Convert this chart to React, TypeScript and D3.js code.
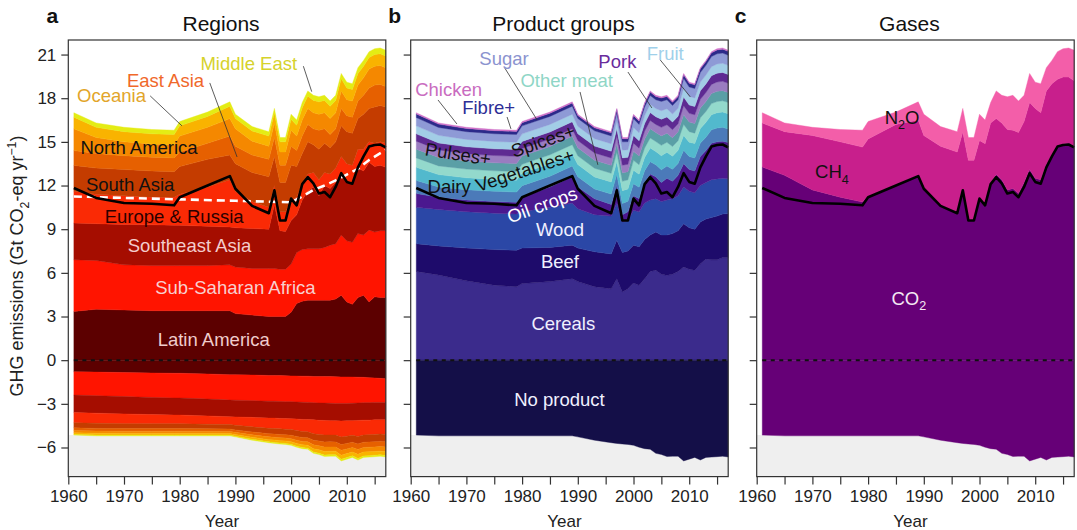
import { useEffect, useRef } from 'react';
import * as d3 from 'd3';

// ---- data (Gt CO2-eq per year) ----
const years = [1961, 1965, 1970, 1975, 1979, 1980, 1985, 1989, 1990, 1993, 1996, 1997, 1998, 1999, 2000, 2001, 2002, 2003, 2004, 2005, 2006, 2007, 2008, 2009, 2010, 2011, 2012, 2013, 2014, 2015, 2016, 2017];

// black line: alternative estimate, white dashed line: trend (panel a)
const otherEstimate = [11.83, 11.15, 10.8, 10.75, 10.64, 11.2, 12.0, 12.65, 11.78, 10.6, 10.1, 11.67, 9.6, 9.6, 11.1, 10.64, 12.1, 12.58, 12.15, 11.45, 11.55, 11.2, 11.9, 12.85, 12.25, 12.13, 13.25, 14.0, 14.68, 14.78, 14.82, 14.62];
const trendYears = [1961, 1970, 1980, 1990, 2000, 2002, 2004, 2006, 2008, 2010, 2012, 2014, 2017];
const trendValues = [11.25, 11.15, 11.05, 10.95, 10.85, 11.25, 11.7, 12.0, 12.35, 12.75, 13.15, 13.75, 14.45];

// net land sink (shared by all panels)
const landSink = [-5.15, -5.2, -5.2, -5.2, -5.2, -5.2, -5.2, -5.2, -5.27, -5.5, -5.67, -5.72, -5.76, -5.79, -5.85, -5.98, -6.08, -6.12, -6.4, -6.48, -6.62, -6.6, -6.6, -6.92, -6.8, -6.68, -6.86, -6.68, -6.66, -6.63, -6.6, -6.65];

// panel a: regions (sources)
const latinAmerica = [3.35, 3.5, 3.45, 3.4, 3.4, 3.4, 3.4, 3.4, 3.2, 3.1, 3.0, 3.0, 3.0, 3.0, 3.3, 3.9, 4.05, 4.12, 4.12, 4.12, 4.12, 4.12, 4.2, 4.46, 4.0, 3.84, 4.3, 4.46, 4.0, 4.35, 4.3, 4.3];
const subSaharanAfrica = [3.55, 3.35, 3.1, 3.1, 3.1, 3.1, 3.1, 3.15, 3.2, 3.2, 3.3, 3.3, 3.25, 3.25, 3.3, 3.5, 3.55, 3.53, 3.53, 3.53, 3.63, 3.78, 3.8, 4.14, 4.2, 4.26, 4.4, 4.14, 4.95, 4.45, 4.6, 4.6];
const southeastAsia = [2.52, 2.53, 2.78, 2.8, 2.77, 2.77, 2.7, 2.6, 2.7, 2.75, 2.7, 4.4, 2.65, 2.6, 3.0, 2.6, 3.4, 3.95, 4.25, 3.65, 4.25, 3.9, 4.2, 4.3, 4.1, 4.1, 4.5, 4.4, 4.65, 4.5, 4.5, 4.35];
const europeRussia = [2.18, 2.02, 1.97, 1.9, 1.93, 2.13, 2.7, 3.25, 2.5, 1.85, 1.5, 1.3, 1.3, 1.35, 1.4, 1.2, 1.1, 1.2, 1.0, 1.1, 0.9, 1.0, 1.0, 1.1, 1.2, 1.2, 1.3, 1.5, 1.4, 1.6, 1.6, 1.65];
const southAsia = [1.78, 1.8, 1.8, 1.8, 1.75, 1.9, 1.9, 1.7, 1.9, 2.0, 2.1, 2.0, 2.0, 2.0, 2.4, 2.1, 2.1, 2.2, 1.9, 2.1, 2.0, 1.8, 1.8, 2.1, 2.2, 2.2, 2.1, 2.4, 2.3, 2.5, 2.5, 2.5];
const eastAsia = [1.02, 1.0, 0.95, 0.95, 0.95, 1.0, 1.1, 1.3, 1.2, 1.2, 1.2, 1.3, 1.2, 1.2, 1.3, 1.1, 1.2, 1.2, 1.1, 1.3, 1.0, 0.9, 0.9, 1.2, 1.1, 1.1, 1.2, 1.3, 1.4, 1.5, 1.45, 1.4];
const northAmerica = [1.5, 1.1, 0.95, 0.9, 0.9, 1.1, 1.1, 1.2, 1.2, 0.95, 0.9, 1.0, 0.9, 0.9, 1.1, 1.0, 1.1, 1.1, 1.1, 1.1, 1.1, 1.1, 1.1, 1.2, 1.1, 1.1, 1.1, 1.2, 1.3, 1.3, 1.3, 1.3];
const oceania = [0.8, 0.7, 0.7, 0.7, 0.7, 0.7, 0.75, 0.85, 0.7, 0.7, 0.7, 0.7, 0.7, 0.7, 0.75, 0.75, 0.85, 0.85, 0.85, 0.85, 0.85, 0.85, 0.85, 0.85, 0.8, 0.8, 0.8, 0.8, 0.8, 0.8, 0.8, 0.8];
const middleEast = [0.3, 0.3, 0.3, 0.3, 0.3, 0.3, 0.3, 0.3, 0.3, 0.3, 0.3, 0.3, 0.3, 0.3, 0.35, 0.35, 0.35, 0.35, 0.35, 0.35, 0.35, 0.35, 0.35, 0.35, 0.4, 0.4, 0.4, 0.4, 0.4, 0.4, 0.4, 0.4];

// panel a: regions (sinks)
const latinAmericaSink = [-0.8, -0.82, -0.85, -0.88, -0.9, -0.9, -0.95, -1.0, -1.0, -1.02, -1.05, -1.05, -1.06, -1.07, -1.08, -1.09, -1.1, -1.1, -1.12, -1.12, -1.13, -1.13, -1.14, -1.15, -1.15, -1.16, -1.17, -1.18, -1.2, -1.22, -1.25, -1.27];
const subSaharanAfricaSink = [-1.6, -1.62, -1.65, -1.68, -1.7, -1.7, -1.72, -1.74, -1.75, -1.76, -1.77, -1.77, -1.78, -1.78, -1.77, -1.78, -1.79, -1.8, -1.8, -1.82, -1.82, -1.83, -1.83, -1.82, -1.82, -1.8, -1.77, -1.74, -1.72, -1.68, -1.65, -1.63];
const southeastAsiaSink = [-1.2, -1.2, -1.19, -1.18, -1.17, -1.17, -1.16, -1.15, -1.15, -1.15, -1.16, -1.16, -1.16, -1.16, -1.17, -1.17, -1.18, -1.18, -1.18, -1.19, -1.19, -1.2, -1.2, -1.21, -1.2, -1.2, -1.2, -1.2, -1.2, -1.2, -1.2, -1.2];
const europeRussiaSink = [-0.7, -0.7, -0.67, -0.63, -0.6, -0.6, -0.57, -0.53, -0.57, -0.65, -0.7, -0.72, -0.72, -0.73, -0.75, -0.8, -0.83, -0.84, -0.95, -0.97, -1.0, -0.98, -0.98, -1.1, -1.05, -1.0, -1.1, -1.02, -1.0, -1.0, -0.98, -1.0];
const southAsiaSink = [-0.35, -0.35, -0.34, -0.33, -0.33, -0.33, -0.32, -0.31, -0.32, -0.35, -0.37, -0.38, -0.38, -0.38, -0.39, -0.4, -0.41, -0.41, -0.45, -0.46, -0.48, -0.47, -0.47, -0.52, -0.5, -0.48, -0.52, -0.5, -0.5, -0.5, -0.5, -0.5];
const eastAsiaSink = [-0.18, -0.18, -0.18, -0.18, -0.18, -0.18, -0.17, -0.17, -0.17, -0.2, -0.22, -0.22, -0.23, -0.23, -0.24, -0.26, -0.27, -0.28, -0.32, -0.32, -0.35, -0.35, -0.34, -0.39, -0.38, -0.36, -0.38, -0.36, -0.36, -0.36, -0.36, -0.37];
const northAmericaSink = [-0.15, -0.15, -0.15, -0.15, -0.15, -0.15, -0.14, -0.14, -0.14, -0.17, -0.19, -0.19, -0.2, -0.2, -0.21, -0.22, -0.23, -0.24, -0.27, -0.28, -0.3, -0.3, -0.29, -0.34, -0.32, -0.31, -0.33, -0.31, -0.31, -0.31, -0.31, -0.31];
const oceaniaSink = [-0.12, -0.13, -0.12, -0.12, -0.12, -0.12, -0.12, -0.11, -0.12, -0.14, -0.15, -0.16, -0.16, -0.17, -0.17, -0.19, -0.19, -0.2, -0.22, -0.23, -0.25, -0.24, -0.25, -0.28, -0.27, -0.26, -0.28, -0.27, -0.27, -0.26, -0.25, -0.27];
const middleEastSink = [-0.05, -0.05, -0.05, -0.05, -0.05, -0.05, -0.05, -0.05, -0.05, -0.06, -0.06, -0.07, -0.07, -0.07, -0.07, -0.07, -0.08, -0.07, -0.09, -0.09, -0.1, -0.1, -0.1, -0.11, -0.11, -0.11, -0.11, -0.1, -0.1, -0.1, -0.1, -0.1];

// panel b: product groups
const cereals = [6.1, 5.85, 5.45, 5.15, 5.05, 5.26, 5.4, 5.6, 5.4, 5.05, 4.9, 5.6, 4.69, 4.9, 5.3, 5.15, 5.6, 6.1, 6.18, 5.9, 5.83, 5.9, 6.1, 6.4, 6.25, 6.18, 6.6, 6.95, 6.9, 6.9, 7.05, 7.05];
const beef = [1.9, 2.0, 2.25, 2.45, 2.5, 2.44, 2.35, 2.3, 2.3, 2.4, 2.4, 2.64, 2.71, 2.6, 2.6, 2.65, 2.7, 2.5, 2.62, 2.7, 2.77, 2.8, 2.8, 2.98, 2.85, 2.82, 2.9, 2.75, 2.9, 3.0, 3.0, 3.02];
const wood = [2.5, 2.5, 2.5, 2.5, 2.5, 2.5, 2.75, 2.9, 2.7, 2.55, 2.6, 2.56, 2.1, 2.1, 2.4, 2.4, 2.5, 2.4, 2.3, 2.3, 2.4, 2.4, 2.4, 2.52, 2.5, 2.5, 2.5, 2.5, 2.6, 2.55, 2.45, 2.4];
const oilCrops = [0.95, 0.85, 0.8, 0.8, 0.8, 1.0, 1.4, 1.8, 1.5, 1.1, 0.8, 1.2, 0.5, 0.6, 1.0, 0.9, 1.4, 1.8, 1.5, 1.3, 1.5, 1.2, 1.4, 1.6, 1.5, 1.5, 2.0, 2.2, 2.5, 2.55, 2.55, 2.48];
const dairy = [0.9, 0.7, 0.71, 0.7, 0.7, 0.79, 0.74, 0.74, 0.71, 0.66, 0.71, 0.77, 0.77, 0.72, 0.83, 0.78, 0.82, 0.84, 0.82, 0.88, 0.84, 0.82, 0.82, 0.92, 0.89, 0.89, 0.92, 0.92, 0.93, 0.95, 0.95, 0.94];
const vegetables = [0.9, 0.85, 0.82, 0.82, 0.82, 0.85, 0.85, 0.85, 0.83, 0.83, 0.83, 0.88, 0.88, 0.85, 0.92, 0.9, 0.9, 0.94, 0.92, 0.97, 0.94, 0.9, 0.9, 1.02, 0.99, 0.99, 1.0, 1.02, 1.04, 1.05, 1.05, 1.04];
const otherMeat = [0.65, 0.6, 0.6, 0.59, 0.59, 0.62, 0.62, 0.62, 0.6, 0.6, 0.6, 0.64, 0.64, 0.62, 0.68, 0.65, 0.66, 0.69, 0.68, 0.71, 0.69, 0.66, 0.66, 0.75, 0.72, 0.72, 0.73, 0.75, 0.76, 0.77, 0.77, 0.77];
const pulses = [0.6, 0.58, 0.56, 0.55, 0.55, 0.57, 0.57, 0.57, 0.55, 0.55, 0.55, 0.58, 0.58, 0.56, 0.62, 0.6, 0.61, 0.63, 0.62, 0.65, 0.63, 0.61, 0.61, 0.68, 0.66, 0.66, 0.67, 0.68, 0.69, 0.7, 0.7, 0.7];
const spices = [0.55, 0.52, 0.5, 0.5, 0.5, 0.52, 0.52, 0.52, 0.5, 0.5, 0.5, 0.53, 0.53, 0.51, 0.56, 0.54, 0.55, 0.57, 0.56, 0.59, 0.57, 0.55, 0.55, 0.62, 0.6, 0.6, 0.61, 0.62, 0.63, 0.64, 0.64, 0.63];
const pork = [0.5, 0.48, 0.47, 0.46, 0.46, 0.48, 0.48, 0.48, 0.47, 0.47, 0.47, 0.5, 0.5, 0.48, 0.53, 0.51, 0.52, 0.54, 0.53, 0.56, 0.54, 0.52, 0.52, 0.59, 0.57, 0.57, 0.58, 0.59, 0.6, 0.61, 0.61, 0.6];
const fruit = [0.55, 0.52, 0.51, 0.51, 0.51, 0.52, 0.52, 0.52, 0.51, 0.51, 0.51, 0.53, 0.53, 0.52, 0.55, 0.54, 0.55, 0.57, 0.56, 0.58, 0.57, 0.55, 0.55, 0.61, 0.59, 0.59, 0.6, 0.61, 0.62, 0.63, 0.63, 0.63];
const sugar = [0.57, 0.54, 0.53, 0.53, 0.53, 0.55, 0.55, 0.55, 0.54, 0.54, 0.54, 0.57, 0.57, 0.55, 0.6, 0.58, 0.59, 0.61, 0.6, 0.64, 0.61, 0.59, 0.59, 0.67, 0.65, 0.65, 0.66, 0.67, 0.69, 0.7, 0.7, 0.69];
const fibre = [0.25, 0.23, 0.22, 0.21, 0.21, 0.22, 0.22, 0.22, 0.21, 0.21, 0.21, 0.22, 0.22, 0.21, 0.23, 0.22, 0.22, 0.23, 0.23, 0.24, 0.23, 0.22, 0.22, 0.26, 0.25, 0.25, 0.25, 0.26, 0.26, 0.27, 0.27, 0.27];
const chicken = [0.08, 0.08, 0.08, 0.08, 0.08, 0.08, 0.08, 0.08, 0.08, 0.08, 0.08, 0.08, 0.08, 0.08, 0.08, 0.08, 0.08, 0.08, 0.08, 0.08, 0.08, 0.08, 0.08, 0.08, 0.08, 0.08, 0.08, 0.08, 0.08, 0.08, 0.08, 0.08];

// panel c: gases
const co2 = [13.27, 12.7, 11.7, 11.2, 10.86, 11.25, 12.05, 12.7, 11.83, 10.65, 10.15, 11.72, 9.65, 9.65, 11.15, 10.7, 12.15, 12.75, 12.4, 11.7, 11.8, 11.45, 12.2, 13.1, 12.5, 12.4, 13.45, 14.1, 14.75, 14.85, 14.9, 14.7];
const ch4 = [3.02, 3.0, 3.74, 3.8, 3.78, 3.95, 4.15, 3.8, 3.61, 4.05, 4.15, 3.95, 4.08, 4.08, 3.95, 4.17, 4.15, 3.85, 3.9, 4.15, 4.0, 4.2, 4.2, 4.6, 4.8, 4.6, 5.05, 4.9, 4.55, 4.6, 4.55, 4.5];
const n2o = [0.71, 0.6, 0.56, 0.85, 1.16, 1.2, 0.85, 1.25, 1.46, 1.35, 1.4, 1.63, 1.57, 1.57, 1.8, 1.63, 1.4, 1.9, 1.9, 2.25, 2.4, 2.15, 1.8, 2.0, 1.8, 2.0, 1.6, 1.6, 1.9, 1.95, 2.0, 2.1];

// ---- layout ----
const FONT = '"Liberation Sans", Arial, Helvetica, sans-serif';
const PLOT_TOP = 40;
const PLOT_BOTTOM = 476.6;
const PLOT_W = 317.5;
const PANEL_LEFT = [68.3, 410.7, 756.7];

const regionSeries = [
  { key: 'Latin America', values: latinAmerica, color: '#5c0000' },
  { key: 'Sub-Saharan Africa', values: subSaharanAfrica, color: '#ff1400' },
  { key: 'Southeast Asia', values: southeastAsia, color: '#a50d00' },
  { key: 'Europe & Russia', values: europeRussia, color: '#fa2a05' },
  { key: 'South Asia', values: southAsia, color: '#c43c00' },
  { key: 'East Asia', values: eastAsia, color: '#e66000' },
  { key: 'North America', values: northAmerica, color: '#f58800' },
  { key: 'Oceania', values: oceania, color: '#f9b300' },
  { key: 'Middle East', values: middleEast, color: '#e4ec14' },
  { key: 'Latin America sink', values: latinAmericaSink, color: '#5c0000' },
  { key: 'Sub-Saharan Africa sink', values: subSaharanAfricaSink, color: '#ff1400' },
  { key: 'Southeast Asia sink', values: southeastAsiaSink, color: '#a50d00' },
  { key: 'Europe & Russia sink', values: europeRussiaSink, color: '#fa2a05' },
  { key: 'South Asia sink', values: southAsiaSink, color: '#c43c00' },
  { key: 'East Asia sink', values: eastAsiaSink, color: '#e66000' },
  { key: 'North America sink', values: northAmericaSink, color: '#f58800' },
  { key: 'Oceania sink', values: oceaniaSink, color: '#f9b300' },
  { key: 'Middle East sink', values: middleEastSink, color: '#e4ec14' },
];

const productSeries = [
  { key: 'Cereals', values: cereals, color: '#3b2b8c' },
  { key: 'Beef', values: beef, color: '#1e0b6b' },
  { key: 'Wood', values: wood, color: '#2b47a6' },
  { key: 'Oil crops', values: oilCrops, color: '#4b188f' },
  { key: 'Dairy', values: dairy, color: '#4b7ab9' },
  { key: 'Vegetables+', values: vegetables, color: '#52b9cd' },
  { key: 'Other meat', values: otherMeat, color: '#93d9cc' },
  { key: 'Pulses+', values: pulses, color: '#5a9fa6' },
  { key: 'Spices+', values: spices, color: '#9a7cc0' },
  { key: 'Pork', values: pork, color: '#5e2a92' },
  { key: 'Fruit', values: fruit, color: '#a2cde6' },
  { key: 'Sugar', values: sugar, color: '#8e9ad6' },
  { key: 'Fibre+', values: fibre, color: '#2b2a8a' },
  { key: 'Chicken', values: chicken, color: '#d070c8' },
  { key: 'No product', values: landSink, color: '#140f48' },
];

const gasSeries = [
  { key: 'CO2', values: co2, color: '#660077' },
  { key: 'CH4', values: ch4, color: '#c81f8c' },
  { key: 'N2O', values: n2o, color: '#f35ea9' },
  { key: 'CO2 sink', values: landSink, color: '#660077' },
];

// labels placed in data coordinates (year, value)
type Part = { t: string; s?: 'sub' | 'sup' };
const regionLabels = [
  { parts: [{ t: 'Middle East' }], year: 1992.4, value: 20.4, color: '#d6d22c' },
  { parts: [{ t: 'East Asia' }], year: 1977.45, value: 19.2, color: '#f0682a' },
  { parts: [{ t: 'Oceania' }], year: 1967.75, value: 18.2, color: '#e2a52a' },
  { parts: [{ t: 'North America' }], year: 1972.7, value: 14.6, color: '#111' },
  { parts: [{ t: 'South Asia' }], year: 1971.1, value: 12.05, color: '#111' },
  { parts: [{ t: 'Europe & Russia' }], year: 1979.0, value: 9.9, color: '#2a0000' },
  { parts: [{ t: 'Southeast Asia' }], year: 1981.75, value: 7.9, color: '#f3cccc' },
  { parts: [{ t: 'Sub-Saharan Africa' }], year: 1990.0, value: 5.0, color: '#f8cfcf' },
  { parts: [{ t: 'Latin America' }], year: 1986.1, value: 1.45, color: '#f0cccc' },
];
const regionLeaders = [
  [2002.2, 20.2, 2003.7, 18.45],
  [1985.4, 19.05, 1990.3, 13.96],
  [1974.7, 18.16, 1980.4, 16.1],
];
const productLabels = [
  { parts: [{ t: 'Chicken' }], year: 1966.8, value: 18.57, color: '#c96cc0' },
  { parts: [{ t: 'Fibre+' }], year: 1974.0, value: 17.33, color: '#2e2e96' },
  { parts: [{ t: 'Sugar' }], year: 1976.75, value: 20.7, color: '#8b93cf' },
  { parts: [{ t: 'Other meat' }], year: 1988.0, value: 19.2, color: '#8fd6c6' },
  { parts: [{ t: 'Pork' }], year: 1997.1, value: 20.5, color: '#6a2c9c' },
  { parts: [{ t: 'Fruit' }], year: 2005.7, value: 21.1, color: '#9fd0ea' },
  { parts: [{ t: 'Spices+' }], year: 1983.75, value: 15.07, color: '#111', rotate: -19 },
  { parts: [{ t: 'Pulses+' }], year: 1968.5, value: 14.17, color: '#111', rotate: 9 },
  { parts: [{ t: 'Vegetables+' }], year: 1980.5, value: 13.07, color: '#111', rotate: -18 },
  { parts: [{ t: 'Dairy' }], year: 1966.9, value: 11.9, color: '#111' },
  { parts: [{ t: 'Oil crops' }], year: 1983.6, value: 10.67, color: '#fff', rotate: -20 },
  { parts: [{ t: 'Wood' }], year: 1986.8, value: 9.0, color: '#f0f0ff' },
  { parts: [{ t: 'Beef' }], year: 1986.8, value: 6.76, color: '#f0f0ff' },
  { parts: [{ t: 'Cereals' }], year: 1987.4, value: 2.5, color: '#f0f0ff' },
  { parts: [{ t: 'No product' }], year: 1986.7, value: -2.7, color: '#f0f0ff' },
];
const productLeaders = [
  [1964.9, 17.88, 1968.3, 16.23],
  [1977.3, 16.71, 1978.0, 15.89],
  [1976.9, 20.07, 1982.7, 16.5],
  [1990.4, 18.43, 1993.6, 13.42],
  [1999.0, 19.8, 2003.3, 17.33],
  [2004.8, 20.63, 2010.2, 18.09],
];
const gasLabels = [
  { parts: [{ t: 'N' }, { t: '2', s: 'sub' }, { t: 'O' }], year: 1986.1, value: 16.7, color: '#111' },
  { parts: [{ t: 'CH' }, { t: '4', s: 'sub' }], year: 1973.5, value: 12.93, color: '#111' },
  { parts: [{ t: 'CO' }, { t: '2', s: 'sub' }], year: 1987.3, value: 4.27, color: '#f4e8f4' },
];

function richText(g, parts: Part[], x: number, y: number, size: number, fill: string, rotate = 0) {
  const text = g.append('text')
    .attr('transform', `translate(${x},${y}) rotate(${rotate})`)
    .attr('text-anchor', 'middle')
    .attr('font-family', FONT)
    .attr('font-size', size)
    .attr('fill', fill);
  let shift = 0;
  parts.forEach((p, i) => {
    const target = p.s === 'sub' ? 0.3 : p.s === 'sup' ? -0.42 : 0;
    const base = i === 0 ? 0.35 * size : 0;
    text.append('tspan')
      .attr('dy', base + (target - shift) * size)
      .attr('font-size', p.s ? size * 0.68 : size)
      .text(p.t);
    shift = target;
  });
  return text;
}

function drawPanel(root, idx: number, series, opts) {
  const left = PANEL_LEFT[idx];
  const x = d3.scaleLinear().domain([1960, 2017]).range([left, left + PLOT_W]);
  const y = d3.scaleLinear().domain([-8, 22]).range([PLOT_BOTTOM, PLOT_TOP]);
  const g = root.append('g');

  const rows = years.map((year, i) => {
    const r: any = { year };
    series.forEach(s => { r[s.key] = s.values[i]; });
    return r;
  });
  const layers = d3.stack().keys(series.map(s => s.key)).offset(d3.stackOffsetDiverging)(rows);

  // light grey ground below the land sink
  const ground = rows.map((r, i) => ({ year: r.year, v: d3.min(layers, (L: any) => L[i][0]) }));
  ground.unshift({ year: 1960, v: ground[0].v });
  g.append('path')
    .datum(ground)
    .attr('fill', '#efefef')
    .attr('d', d3.area<any>().x(d => x(d.year)).y0(PLOT_BOTTOM).y1(d => y(d.v)));

  const area = d3.area<any>()
    .x(d => x(d.data.year))
    .y0(d => y(d[0]))
    .y1(d => y(d[1]));

  g.selectAll('path.layer')
    .data(layers)
    .enter()
    .append('path')
    .attr('class', 'layer')
    .attr('fill', (d, i) => series[i].color)
    .attr('stroke', (d, i) => series[i].color)
    .attr('stroke-width', 0.4)
    .attr('d', area);

  // zero line
  g.append('line')
    .attr('x1', x(1961)).attr('x2', x(2017))
    .attr('y1', y(0)).attr('y2', y(0))
    .attr('stroke', '#111')
    .attr('stroke-width', 2)
    .attr('stroke-dasharray', '4,4.5');

  const line = d3.line<any>().x(d => x(d[0])).y(d => y(d[1]));

  if (opts.trend) {
    g.append('path')
      .datum(trendYears.map((yr, i) => [yr, trendValues[i]]))
      .attr('fill', 'none')
      .attr('stroke', '#fff')
      .attr('stroke-width', 2.6)
      .attr('stroke-dasharray', '8,5')
      .attr('d', line);
  }

  g.append('path')
    .datum(years.map((yr, i) => [yr, otherEstimate[i]]))
    .attr('fill', 'none')
    .attr('stroke', '#000')
    .attr('stroke-width', 2.6)
    .attr('stroke-linejoin', 'round')
    .attr('d', line);

  // frame
  g.append('rect')
    .attr('x', left).attr('y', PLOT_TOP)
    .attr('width', PLOT_W).attr('height', PLOT_BOTTOM - PLOT_TOP)
    .attr('fill', 'none')
    .attr('stroke', '#333')
    .attr('stroke-width', 1.2);

  // axes
  const yAxis = d3.axisLeft(y).tickValues(d3.range(-6, 22, 3)).tickSize(7).tickPadding(5);
  if (!opts.yLabels) yAxis.tickFormat(() => '');
  const ya = g.append('g').attr('transform', `translate(${left},0)`).call(yAxis);
  ya.select('.domain').remove();
  ya.attr('font-family', FONT).attr('font-size', 17);
  ya.selectAll('line').attr('stroke', '#333').attr('stroke-width', 1.2);
  ya.selectAll('text').attr('fill', '#222');

  const xAxis = d3.axisBottom(x)
    .tickValues(d3.range(1960, 2016, 5))
    .tickSize(8)
    .tickPadding(5)
    .tickFormat((d: any) => (d % 10 === 0 ? String(d) : ''));
  const xa = g.append('g').attr('transform', `translate(0,${PLOT_BOTTOM})`).call(xAxis);
  xa.select('.domain').remove();
  xa.attr('font-family', FONT).attr('font-size', 17);
  xa.selectAll('line').attr('stroke', '#333').attr('stroke-width', 1.2);
  xa.selectAll('text').attr('fill', '#222');

  g.append('text')
    .attr('x', left + PLOT_W / 2 - 5)
    .attr('y', 527)
    .attr('text-anchor', 'middle')
    .attr('font-family', FONT)
    .attr('font-size', 17)
    .attr('fill', '#222')
    .text('Year');

  // title and panel letter
  g.append('text')
    .attr('x', left + PLOT_W / 2 - 6)
    .attr('y', 31)
    .attr('text-anchor', 'middle')
    .attr('font-family', FONT)
    .attr('font-size', 21)
    .attr('fill', '#111')
    .text(opts.title);
  g.append('text')
    .attr('x', left - 16)
    .attr('y', 23)
    .attr('text-anchor', 'middle')
    .attr('font-family', FONT)
    .attr('font-weight', 'bold')
    .attr('font-size', 21)
    .attr('fill', '#111')
    .text(opts.letter);

  // leader lines and labels
  (opts.leaders || []).forEach(l => {
    g.append('line')
      .attr('x1', x(l[0])).attr('y1', y(l[1]))
      .attr('x2', x(l[2])).attr('y2', y(l[3]))
      .attr('stroke', '#333')
      .attr('stroke-width', 0.8);
  });
  opts.labels.forEach(lb => {
    richText(g, lb.parts, x(lb.year), y(lb.value), 18.5, lb.color, lb.rotate || 0);
  });
}

const App = () => {
  const svgRef = useRef<SVGSVGElement>(null);

  useEffect(() => {
    const svg = d3.select(svgRef.current);
    svg.selectAll('*').remove();

    drawPanel(svg, 0, regionSeries, {
      title: 'Regions', letter: 'a', yLabels: true, trend: true,
      labels: regionLabels, leaders: regionLeaders,
    });
    drawPanel(svg, 1, productSeries, {
      title: 'Product groups', letter: 'b', yLabels: false, trend: false,
      labels: productLabels, leaders: productLeaders,
    });
    drawPanel(svg, 2, gasSeries, {
      title: 'Gases', letter: 'c', yLabels: false, trend: false,
      labels: gasLabels, leaders: [],
    });

    // shared y-axis title
    richText(
      svg,
      [{ t: 'GHG emissions (Gt CO' }, { t: '2', s: 'sub' }, { t: '-eq yr' }, { t: '−1', s: 'sup' }, { t: ')' }],
      17, 266, 18, '#222', -90,
    );
  }, []);

  return (
    <svg
      ref={svgRef}
      width={1077}
      height={530}
      style={{ position: 'absolute', left: 0, top: 0, background: '#fff' }}
    />
  );
};

export default App;
